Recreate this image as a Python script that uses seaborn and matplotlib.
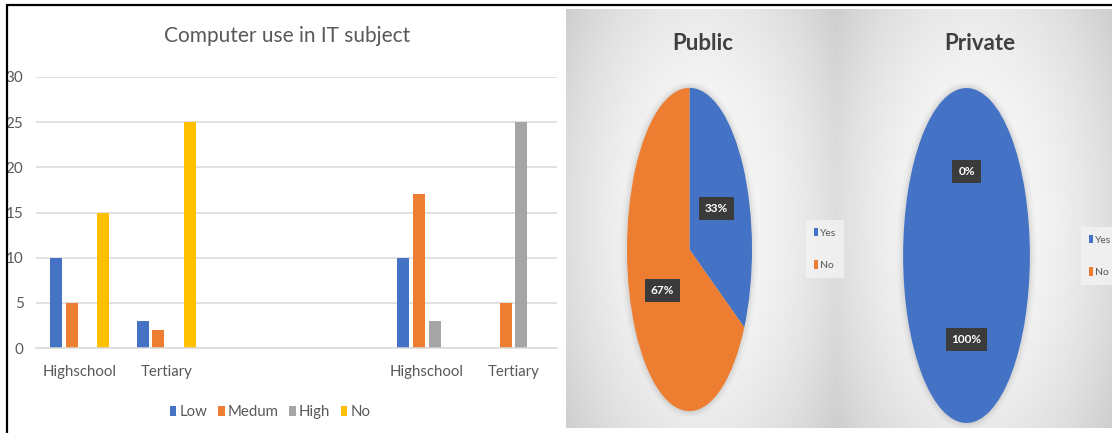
import numpy as np
import pandas as pd
import matplotlib
matplotlib.use("Agg")
import matplotlib.pyplot as plt
from matplotlib.lines import Line2D
from matplotlib.patches import Patch, Ellipse
import seaborn as sns

# ---- data -------------------------------------------------------------
levels = ["Low", "Medum", "High", "No"]
groups = ["Public Highschool", "Public Tertiary", "Private Highschool", "Private Tertiary"]
low = [10, 3, 10, 0]
medium = [5, 2, 17, 5]
high = [0, 0, 3, 25]
no = [15, 25, 0, 0]

# category slots on the x axis (two empty slots separate the halves)
slot_order = ["Public Highschool", "Public Tertiary", "gap a", "gap b",
              "Private Highschool", "Private Tertiary"]
tick_labels = ["Highschool", "Tertiary", "", "", "Highschool", "Tertiary"]
y_ticks = [0, 5, 10, 15, 20, 25, 30]

pie_labels = ["Yes", "No"]
public_share = [33, 67]
private_share = [100, 0]

colors = {"Low": "#4472C4", "Medum": "#ED7D31", "High": "#A5A5A5", "No": "#FFC000"}
pie_colors = ["#4472C4", "#ED7D31"]

sns.set_theme(style="white")
plt.rcParams["font.family"] = ["Lato", "DejaVu Sans"]

W, H = 1112, 433
fig = plt.figure(figsize=(W / 100, H / 100), dpi=100)
fig.patch.set_facecolor("white")


def fx(px):
    return px / W


def fy(py):
    return 1 - py / H


# ---- bar chart ----------------------------------------------------------
df = pd.DataFrame({
    "group": np.repeat(groups, len(levels)),
    "level": levels * len(groups),
    "value": np.ravel(np.column_stack([low, medium, high, no])),
})

ax = fig.add_axes([fx(36), fy(348), fx(557) - fx(36), fy(77) - fy(348)])
sns.barplot(data=df, x="group", y="value", hue="level", order=slot_order,
            hue_order=levels, palette=colors, saturation=1, width=0.724,
            gap=0.235, linewidth=0, ax=ax)
ax.set_ylim(0, 30)
ax.set_yticks(y_ticks)
ax.set_xticks(range(len(slot_order)))
ax.set_xticklabels(tick_labels)
ax.set_xlabel("")
ax.set_ylabel("")
ax.yaxis.grid(True, color="#d9d9d9", linewidth=1.1)
ax.set_axisbelow(True)
for side in ["left", "right", "top"]:
    ax.spines[side].set_visible(False)
ax.spines["bottom"].set_color("#d9d9d9")
ax.spines["bottom"].set_linewidth(1.1)
ax.tick_params(axis="x", length=0, pad=12, labelsize=10.8, labelcolor="#595959")
ax.tick_params(axis="y", length=0, pad=9, labelsize=11, labelcolor="#595959")
ax.set_facecolor("white")

handles = [Patch(facecolor=colors[l], edgecolor="none") for l in levels]
ax.get_legend().remove()
fig.legend(handles, levels, loc="center", bbox_to_anchor=(fx(270), fy(412)),
           ncol=4, frameon=False, fontsize=10.8, handlelength=0.45,
           handleheight=0.7, handletextpad=0.2, columnspacing=0.7,
           labelcolor="#595959")

fig.text(fx(287), fy(36), "Computer use in IT subject", ha="center", va="center",
         fontsize=15, color="#595959")

# ---- gradient panels behind the pies ----------------------------------
def panel(x0, x1, y0, y1):
    bg = fig.add_axes([fx(x0), fy(y1), fx(x1) - fx(x0), fy(y0) - fy(y1)], zorder=0)
    yy, xx = np.mgrid[-1:1:200j, -1:1:200j]
    r2 = (xx ** 2) * 0.9 + (yy ** 2) * 0.5
    shade = np.clip(0.975 - 0.12 * r2, 0, 1)
    bg.imshow(shade, cmap="gray", vmin=0, vmax=1, aspect="auto",
              extent=[0, 1, 0, 1], interpolation="bilinear")
    bg.set_axis_off()


panel(566, 836, 9, 428)
panel(836, 1112, 9, 428)


def draw_pie(values, x0, x1, y0, y1, title, title_x, legend_x, legend_y):
    pax = fig.add_axes([fx(x0), fy(y1), fx(x1) - fx(x0), fy(y0) - fy(y1)], zorder=2)
    # soft glow around the pie
    for k, a in zip([1.10, 1.06, 1.03], [0.05, 0.07, 0.09]):
        pax.add_patch(Ellipse((0, 0), 2 * k, 2 * (1 + (k - 1) * 0.4),
                              facecolor="#808080", edgecolor="none", alpha=a,
                              zorder=0))
    wedges, _, autotexts = pax.pie(
        values, colors=pie_colors, startangle=90, counterclock=False,
        autopct="%1.0f%%", pctdistance=0.5,
        wedgeprops=dict(linewidth=0, zorder=1),
        textprops=dict(color="white", fontsize=8.5, fontweight="bold"))
    for t in autotexts:
        t.set_bbox(dict(boxstyle="square,pad=0.5", facecolor="#3b3b3b",
                        edgecolor="none"))
        t.set_zorder(3)
    pax.set_aspect("auto")
    pax.set_xlim(-1.12, 1.12)
    pax.set_ylim(-1.03, 1.03)
    pax.patch.set_alpha(0)
    fig.text(fx(title_x), fy(43), title, ha="center", va="center",
             fontsize=16, fontweight="bold", color="#404040", zorder=3)
    leg = fig.legend(wedges, pie_labels, loc="center",
                     bbox_to_anchor=(fx(legend_x), fy(legend_y)),
                     frameon=True, fontsize=7.5, handlelength=0.45,
                     handleheight=0.9, handletextpad=0.15, labelspacing=2.2,
                     labelcolor="#595959", borderpad=0.7, fancybox=False)
    leg.get_frame().set_facecolor("#f3f3f3")
    leg.get_frame().set_edgecolor("none")
    leg.set_zorder(3)


# axes spans are widened slightly so the glow fits around the ellipse
draw_pie(public_share, 627 - 7.5, 752 + 7.5, 88 - 5, 411 + 5, "Public", 703, 825, 249)
draw_pie(private_share, 903 - 7.5, 1030 + 7.5, 88 - 5, 423 + 5, "Private", 980, 1100, 256)

# ---- outer frame lines ----------------------------------------------------
fig.add_artist(Line2D([fx(7), 1], [fy(5), fy(5)], color="black", linewidth=1.6))
fig.add_artist(Line2D([fx(7), fx(7)], [fy(5), 0], color="black", linewidth=1.6))

fig.savefig("out.png", dpi=100)
